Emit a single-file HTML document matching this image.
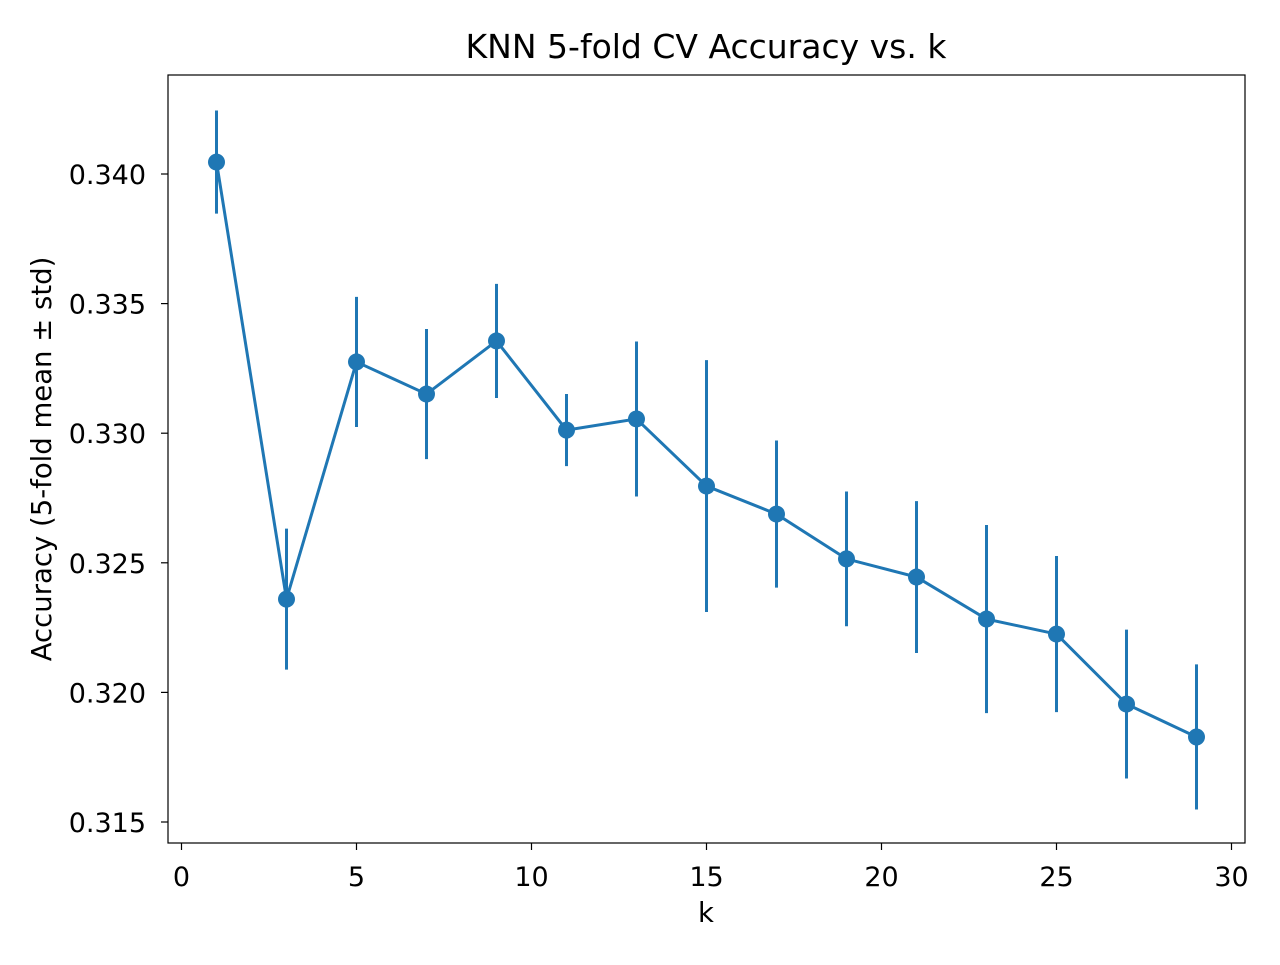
<!DOCTYPE html>
<html><head><meta charset="utf-8"><style>
body{margin:0;background:#fff;font-family:"Liberation Sans","DejaVu Sans",sans-serif}
svg text{font-family:"DejaVu Sans","Liberation Sans",sans-serif;fill:#000}
</style></head><body>
<svg id="chart" width="1280" height="960" xmlns="http://www.w3.org/2000/svg">
<rect width="1280" height="960" fill="#fff"/>
<text x="706" y="58" font-size="33" text-anchor="middle">KNN 5-fold CV Accuracy vs. k</text>
<text x="706" y="922" font-size="27.5" text-anchor="middle">k</text>
<text transform="translate(51,459) rotate(-90)" font-size="27.5" text-anchor="middle">Accuracy (5-fold mean ± std)</text>
<g id="marks"></g>
<rect x="168" y="75" width="1077" height="768" fill="none" stroke="#000" stroke-width="1.2"/>
</svg>
<script>
const kValues=[1,3,5,7,9,11,13,15,17,19,21,23,25,27,29];
const meanAcc=[0.34046,0.32360,0.33275,0.33151,0.33356,0.33012,0.33055,0.32796,0.32688,0.32515,0.32445,0.32283,0.32225,0.31955,0.31828];
const stdAcc=[0.00199,0.00272,0.00251,0.00251,0.0022,0.00139,0.00299,0.00486,0.00284,0.0026,0.00293,0.00363,0.00301,0.00287,0.0028];
const xTicks=[0,5,10,15,20,25,30];
const yTicks=[0.315,0.320,0.325,0.330,0.335,0.340];
const NS="http://www.w3.org/2000/svg";
const xs=v=>181.5+v*35.0;
const ys=v=>174-(v-0.340)*25920;
const g=document.getElementById('marks');
function mk(t,a){const e=document.createElementNS(NS,t);for(const k in a)e.setAttribute(k,a[k]);g.appendChild(e);return e;}
xTicks.forEach(t=>{
  const l=mk('line',{x1:xs(t),x2:xs(t),y1:843,y2:850,stroke:'#000','stroke-width':1.2});
  
  
  const tx=mk('text',{x:xs(t),y:886,'font-size':27,'text-anchor':'middle'});tx.textContent=t;
  
  
});
yTicks.forEach(t=>{
  const l=mk('line',{x1:161,x2:168,y1:ys(t),y2:ys(t),stroke:'#000','stroke-width':1.2});
  
  
  const tx=mk('text',{x:146,y:ys(t)+10,'font-size':27,'text-anchor':'end'});tx.textContent=t.toFixed(3);
  
  
});
const c='#1f77b4';
kValues.forEach((k,i)=>{
  const e=mk('line',{x1:xs(k),x2:xs(k),y1:ys(meanAcc[i]+stdAcc[i]),y2:ys(meanAcc[i]-stdAcc[i]),stroke:c,'stroke-width':3});
  
  
});
const p=mk('polyline',{points:kValues.map((k,i)=>xs(k)+','+ys(meanAcc[i])).join(' '),fill:'none',stroke:c,'stroke-width':3});


kValues.forEach((k,i)=>{
  const m=mk('circle',{cx:xs(k),cy:ys(meanAcc[i]),r:8.5,fill:c});
  
  
});
</script>
</body></html>
